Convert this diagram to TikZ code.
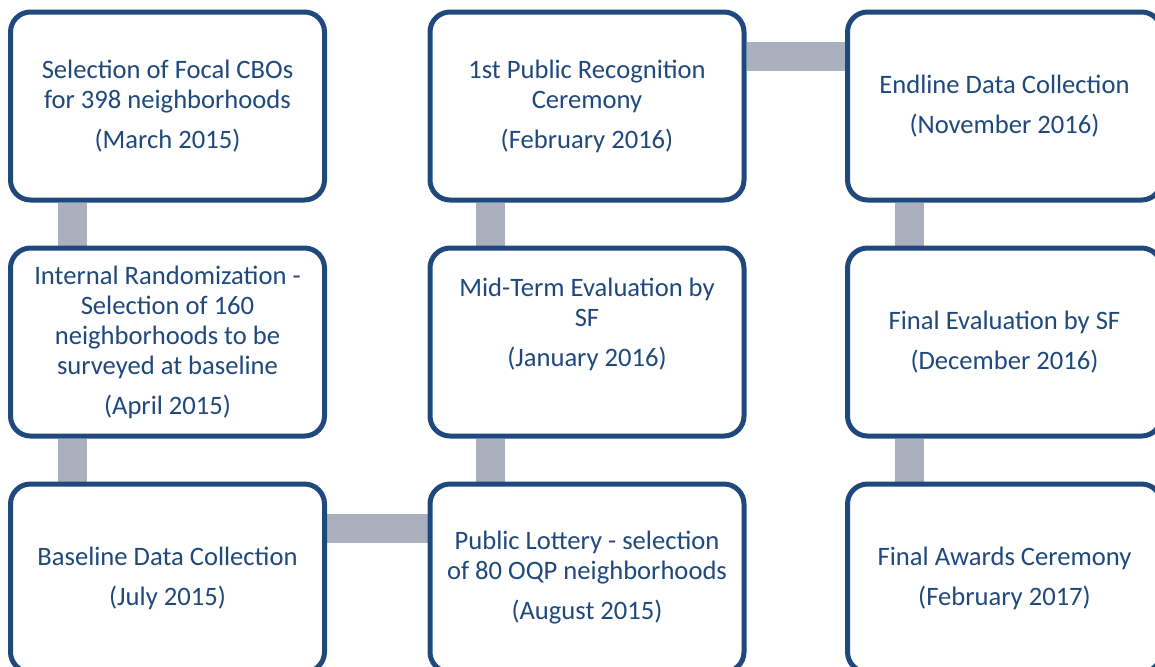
\documentclass[tikz,border=0pt]{standalone}
\usepackage{fontspec}
\setmainfont{Carlito}
\usetikzlibrary{positioning, calc, backgrounds}

\definecolor{navy}{RGB}{31,73,125}
\definecolor{bargray}{RGB}{170,176,190}

\tikzset{
    stage/.style={draw=navy, line width=2.5pt, fill=white, rounded corners=10pt,
        minimum width=157pt, minimum height=94pt, inner sep=0pt,
        align=center, text=navy, font=\fontsize{13.3}{15}\selectfont},
    bar/.style={draw=bargray, line width=14.5pt}
}

\begin{document}
\begin{tikzpicture}[x=0.5pt, y=-0.5pt]
    \useasboundingbox (0, 0) rectangle (1155, 666);

    \node[stage] (cbo) at (167.5, 106) {Selection of Focal CBOs\\for 398 neighborhoods\\[5pt](March 2015)};
    \node[stage] (rand) at (167.5, 342) {Internal Randomization -\\Selection of 160\\neighborhoods to be\\surveyed at baseline\\[5pt](April 2015)};
    \node[stage] (base) at (167.5, 578) {Baseline Data Collection\\[5pt](July 2015)};

    \node[stage] (lottery) at (587, 578) {Public Lottery - selection\\of 80 OQP neighborhoods\\[5pt](August 2015)};
    \node[stage] (midterm) at (587, 342) {Mid-Term Evaluation by\\SF\\[5pt](January 2016)\\[5pt]~};
    \node[stage] (recog) at (587, 106) {1st Public Recognition\\Ceremony\\[5pt](February 2016)};

    \node[stage] (endline) at (1004.5, 106) {Endline Data Collection\\[5pt](November 2016)};
    \node[stage] (fineval) at (1004.5, 342) {Final Evaluation by SF\\[5pt](December 2016)};
    \node[stage] (awards) at (1004.5, 578) {Final Awards Ceremony\\[5pt](February 2017)};

    % connecting bars, behind the boxes
    \begin{scope}[on background layer]
        \draw[bar] ([xshift=32pt]cbo.south west) -- ([xshift=32pt]rand.north west);
        \draw[bar] ([xshift=32pt]rand.south west) -- ([xshift=32pt]base.north west);
        \draw[bar] ([yshift=-23.25pt]base.north east) -- ([yshift=-23.25pt]lottery.north west);
        \draw[bar] ([xshift=31.25pt]lottery.north west) -- ([xshift=31.25pt]midterm.south west);
        \draw[bar] ([xshift=31.25pt]midterm.north west) -- ([xshift=31.25pt]recog.south west);
        \draw[bar] ([yshift=-23.25pt]recog.north east) -- ([yshift=-23.25pt]endline.north west);
        \draw[bar] ([xshift=32pt]endline.south west) -- ([xshift=32pt]fineval.north west);
        \draw[bar] ([xshift=32pt]fineval.south west) -- ([xshift=32pt]awards.north west);
    \end{scope}
\end{tikzpicture}
\end{document}
